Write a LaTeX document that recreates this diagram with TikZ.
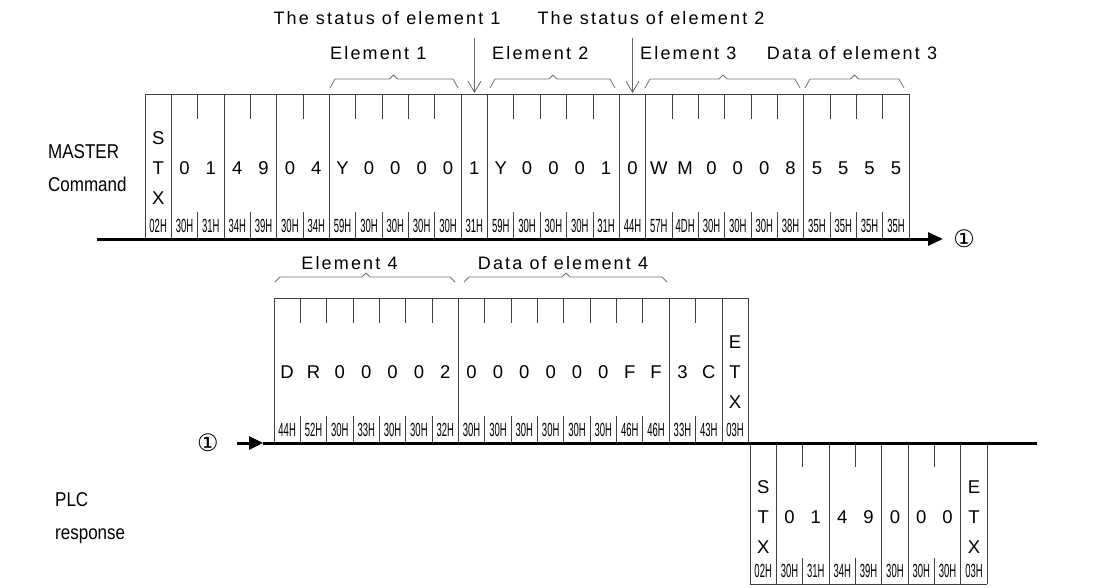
\documentclass[tikz,border=0pt]{standalone}
\usepackage{fontspec}
\setmainfont{Liberation Sans}
\newfontfamily\lblfont[LetterSpace=12]{Liberation Sans}
\newfontfamily\hexfont[FakeStretch=0.5]{Liberation Sans}
\newfontfamily\sidefont[FakeStretch=0.85]{Liberation Sans}
\newfontfamily\symfont{DejaVu Sans}
\usetikzlibrary{arrows.meta}

% width of one character cell
\newcommand{\cw}{26.35}
% bracket over a group: left x, peak x, right x, y of the ends, rise
\newcommand{\grpbrace}[5]{%
  \draw[grp] (#1,#4) -- (#1+5,#4-#5) -- (#2-4,#4-#5) -- (#2,#4-#5-4)
    -- (#2+4,#4-#5) -- (#3-5,#4-#5) -- (#3,#4);}

\begin{document}
\begin{tikzpicture}[
				x=1pt, y=-1pt,
				line cap=butt,
				line join=miter,
				every node/.style={inner sep=0pt, font=\fontsize{18.5}{30}\selectfont},
				cell/.style={draw=black!75, line width=0.9pt},
				wire/.style={line width=3pt},
				grp/.style={draw=black!55, line width=0.8pt},
				chr/.style={anchor=base},
				stack/.style={align=center},
				hexlbl/.style={anchor=base, font=\hexfont\fontsize{19}{20}\selectfont},
				lbl/.style={font=\lblfont\fontsize{18}{20}\selectfont},
				side/.style={anchor=base west, font=\sidefont\fontsize{20}{22}\selectfont},
				mark1/.style={font=\symfont\fontsize{24}{26}\selectfont},
				pointer/.style={draw=black!60, line width=0.8pt, -{Straight Barb[length=11pt,width=13pt]}}
				]
				\useasboundingbox (0,0) rectangle (1103,587);
				
				% Side labels
				\node[side] (mst) at (48,158) {MASTER};
				\node[side] (cmd) at (48,191) {Command};
				\node[side] (plc) at (55,506) {PLC};
				\node[side] (rsp) at (55,539) {response};
				
				% Labels over the command
				\node[lbl] (st1) at (387,18) {The status of element 1};
				\node[lbl] (st2) at (651,18) {The status of element 2};
				\node[lbl, anchor=west] (e1) at (330,53) {Element 1};
				\node[lbl, anchor=west] (e2) at (492,53) {Element 2};
				\node[lbl, anchor=west] (e3) at (640,53) {Element 3};
				\node[lbl] (d3) at (852,53) {Data of element 3};
				\node[lbl] (e4) at (349.5,263) {Element 4};
				\node[lbl] (d4) at (563,263) {Data of element 4};
				
				% Brackets
				\grpbrace{330}{393.5}{458}{88}{9}
				\grpbrace{490}{553}{615}{88}{9}
				\grpbrace{645}{723}{800}{88}{9}
				\grpbrace{805}{854.5}{904}{88}{9}
				\grpbrace{275}{366}{455}{282}{5}
				\grpbrace{464}{566}{667}{282}{5}
				
				% Status pointers
				\coordinate (p1) at (474.5,38);
				\coordinate (q1) at (474.5,93);
				\coordinate (p2) at (632.5,38);
				\coordinate (q2) at (632.5,93);
				\draw[pointer] (p1) -- (q1);
				\draw[pointer] (p2) -- (q2);
				
				% MASTER command frame
				\begin{scope}[shift={(145,94)}]
				\draw[cell] (0,0) -- (29*\cw,0);
				\foreach \k in {0,1,3,5,7,12,13,18,19,25,29} \draw[cell] (\k*\cw,0) -- (\k*\cw,145);
				\foreach \k in {2,4,6,8,9,10,11,14,15,16,17,20,21,22,23,24,26,27,28} {
					\draw[cell] (\k*\cw,0) -- (\k*\cw,25);
					\draw[cell] (\k*\cw,118) -- (\k*\cw,145);
				}
				\node[stack] (mstx) at (0.5*\cw,74) {S\\T\\X};
				\foreach \k/\val in {1/0,2/1,3/4,4/9,5/0,6/4,7/Y,8/0,9/0,10/0,11/0,12/1,13/Y,14/0,15/0,16/0,17/1,18/0,19/W,20/M,21/0,22/0,23/0,24/8,25/5,26/5,27/5,28/5}
					\node[chr] (m\k) at ({(\k+0.5)*\cw},80.5) {\val};
				\foreach \k/\val in {0/02H,1/30H,2/31H,3/34H,4/39H,5/30H,6/34H,7/59H,8/30H,9/30H,10/30H,11/30H,12/31H,13/59H,14/30H,15/30H,16/30H,17/31H,18/44H,19/57H,20/4DH,21/30H,22/30H,23/30H,24/38H,25/35H,26/35H,27/35H,28/35H}
					\node[hexlbl] (mh\k) at ({(\k+0.5)*\cw},138) {\val};
				\end{scope}
				
				% Second part of the command
				\begin{scope}[shift={(274,298)}]
				\draw[cell] (0,0) -- (18*\cw,0);
				\foreach \k in {0,7,15,17,18} \draw[cell] (\k*\cw,0) -- (\k*\cw,145);
				\foreach \k in {1,2,3,4,5,6,8,9,10,11,12,13,14,16} {
					\draw[cell] (\k*\cw,0) -- (\k*\cw,25);
					\draw[cell] (\k*\cw,118) -- (\k*\cw,145);
				}
				\foreach \k/\val in {0/D,1/R,2/0,3/0,4/0,5/0,6/2,7/0,8/0,9/0,10/0,11/0,12/0,13/F,14/F,15/3,16/C}
					\node[chr] (n\k) at ({(\k+0.5)*\cw},80.5) {\val};
				\node[stack] (netx) at (17.5*\cw,74) {E\\T\\X};
				\foreach \k/\val in {0/44H,1/52H,2/30H,3/33H,4/30H,5/30H,6/32H,7/30H,8/30H,9/30H,10/30H,11/30H,12/30H,13/46H,14/46H,15/33H,16/43H,17/03H}
					\node[hexlbl] (nh\k) at ({(\k+0.5)*\cw},138) {\val};
				\end{scope}
				
				% PLC response frame
				\begin{scope}[shift={(750,443)}]
				\draw[cell] (0,141) -- (9*\cw,141);
				\foreach \k in {0,1,3,5,6,8,9} \draw[cell] (\k*\cw,0) -- (\k*\cw,141);
				\foreach \k in {2,4,7} {
					\draw[cell] (\k*\cw,0) -- (\k*\cw,24);
					\draw[cell] (\k*\cw,115) -- (\k*\cw,141);
				}
				\node[stack] (rstx) at (0.5*\cw,74) {S\\T\\X};
				\foreach \k/\val in {1/0,2/1,3/4,4/9,5/0,6/0,7/0}
					\node[chr] (r\k) at ({(\k+0.5)*\cw},80.5) {\val};
				\node[stack] (retx) at (8.5*\cw,74) {E\\T\\X};
				\foreach \k/\val in {0/02H,1/30H,2/31H,3/34H,4/39H,5/30H,6/30H,7/30H,8/03H}
					\node[hexlbl] (rh\k) at ({(\k+0.5)*\cw},134) {\val};
				\end{scope}
				
				% Transmission lines
				\node[mark1] (c1) at (964,239) {①};
				\node[mark1] (c2) at (208,443) {①};
				\coordinate (a1) at (97,239);
				\coordinate (b1) at (943,239);
				\coordinate (a2) at (237,443);
				\coordinate (t2) at (263,443);
				\coordinate (b2) at (1037,443);
				\draw[wire, -{Triangle[length=15pt,width=13pt]}] (a1) -- (b1);
				\draw[wire, -{Triangle[length=14pt,width=13pt]}] (a2) -- (t2);
				\draw[wire] (t2) -- (b2);
			\end{tikzpicture}
\end{document}
